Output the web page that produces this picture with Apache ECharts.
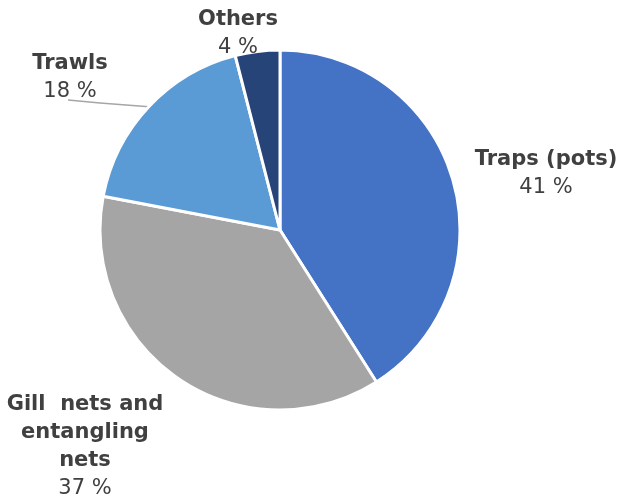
<!DOCTYPE html>
<html><head><meta charset="utf-8">
<script src="https://cdn.jsdelivr.net/npm/echarts@6/dist/echarts.min.js"></script>
<style>html,body{margin:0;padding:0;background:#fff}#c{width:623px;height:498px}</style>
</head><body><div id="c"></div>
<script>
const categories = ['Traps (pots)', 'Gill  nets and\nentangling\nnets', 'Trawls', 'Others'];
const values = [41, 37, 18, 4];
const colors = ['#4472C4', '#A5A5A5', '#5B9BD5', '#264478'];
const labelPos = [[546, 174], [85, 447], [70, 78], [238, 34]];

const chart = echarts.init(document.getElementById('c'));
chart.setOption({
  backgroundColor: '#fff',
  animation: false,
  series: [{
    type: 'pie',
    center: [280, 230],
    radius: [0, 180],
    startAngle: 90,
    clockwise: true,
    data: categories.map((n, i) => ({
      name: n, value: values[i],
      itemStyle: { color: colors[i] },
      labelLine: { show: i === 2 }
    })),
    itemStyle: { borderColor: '#fff', borderWidth: 3 },
    label: {
      show: true,
      position: 'outside',
      overflow: 'none',
      formatter: p => '{n|' + p.name.split('\n').join('}\n{n|') + '}\n{p|' + p.value + ' %}',
      rich: {
        n: { fontFamily: 'DejaVu Sans', fontWeight: 'bold', fontSize: 21, color: '#404040', lineHeight: 28, align: 'center' },
        p: { fontFamily: 'DejaVu Sans', fontSize: 21, color: '#404040', lineHeight: 28, align: 'center' }
      }
    },
    labelLine: { lineStyle: { color: '#A6A6A6', width: 1.5 }, length: 20, length2: 20 },
    labelLayout: p => {
      const r = { x: labelPos[p.dataIndex][0], y: labelPos[p.dataIndex][1], align: 'center', verticalAlign: 'middle' };
      if (p.labelLinePoints) {
        const a = p.labelLinePoints[0];
        r.labelLinePoints = [a, [100, 103], [68, 100]];
      }
      return r;
    }
  }]
});
</script></body></html>
